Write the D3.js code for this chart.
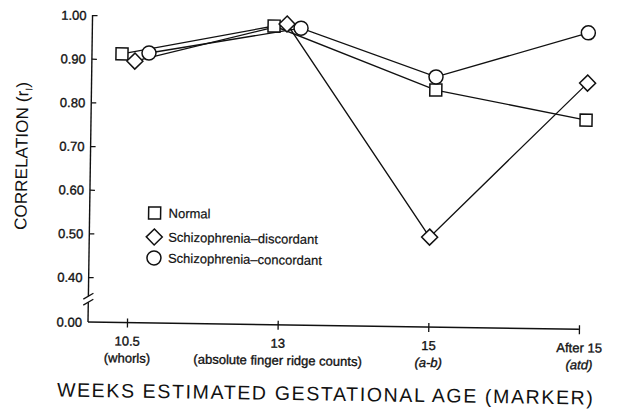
<!DOCTYPE html>
<html><head><meta charset="utf-8">
<script src="https://cdn.jsdelivr.net/npm/d3@7"></script>
<style>body{margin:0;background:#fff}svg{display:block}</style>
</head><body><svg id="c" width="634" height="410"></svg>
<script>
const categories = ["10.5", "13", "15", "After 15"];
const subLabels = ["(whorls)", "(absolute finger ridge counts)", "(a-b)", "(atd)"];
const subItalic = [false, false, true, true];
const seriesNames = ["Normal", "Schizophrenia\u2013discordant", "Schizophrenia\u2013concordant"];
const normal = [0.912, 0.981, 0.840, 0.776];
const discordant = [0.896, 0.986, 0.503, 0.861];
const concordant = [0.915, 0.977, 0.870, 0.976];
const yTicks = [0, 0.4, 0.5, 0.6, 0.7, 0.8, 0.9, 1.0];

const series = [
  {name: seriesNames[0], values: normal, shape: "square", dodge: [-9, -8, 4, 4]},
  {name: seriesNames[1], values: discordant, shape: "diamond", dodge: [4, 5, 0, 5]},
  {name: seriesNames[2], values: concordant, shape: "circle", dodge: [18, 19, 4, 5]}
];

const font = "'Liberation Sans', Arial, Helvetica, sans-serif";
const svg = d3.select("#c");
const g = svg.append("g").attr("transform", "rotate(0.85,88,322)");

const x0 = 88, yBase = 322;
const x = d3.scalePoint().domain(categories).range([127, 579]);
const y = d3.scaleLinear().domain([0, 0.35, 1]).range([322, 298.9, 15]);

function heavy(sel) {
  return sel.attr("font-family", font).attr("fill", "#111")
    .attr("stroke", "#111").attr("stroke-width", 0.35);
}

// Y axis ticks and labels
const yAxis = d3.axisLeft(y).tickValues(yTicks).tickFormat(d3.format(".2f"))
  .tickSizeInner(-5).tickSizeOuter(0).tickPadding(6);
const ya = g.append("g").attr("transform", `translate(${x0},0)`).call(yAxis);
ya.select(".domain").remove();
ya.selectAll(".tick line").attr("stroke", "#111").attr("stroke-width", 1.3)
  .filter(d => d === 0).remove();
heavy(ya.selectAll(".tick text")).attr("font-size", 13).attr("dy", "0.35em");

// Y axis line with break
const brk1 = y(0.345) - 3, brk2 = y(0.345) + 3;
g.append("line").attr("x1", x0).attr("x2", x0).attr("y1", y(1)).attr("y2", brk1)
  .attr("stroke", "#111").attr("stroke-width", 1.4);
g.append("line").attr("x1", x0).attr("x2", x0).attr("y1", brk2).attr("y2", y(0))
  .attr("stroke", "#111").attr("stroke-width", 1.4);
[brk1, brk2].forEach(b => {
  g.append("line").attr("x1", x0 - 5).attr("y1", b + 3).attr("x2", x0 + 5).attr("y2", b - 3)
    .attr("stroke", "#111").attr("stroke-width", 1.3);
});

// X axis
g.append("line").attr("x1", x0).attr("x2", x(categories[3])).attr("y1", yBase).attr("y2", yBase)
  .attr("stroke", "#111").attr("stroke-width", 1.4);
const xAxis = d3.axisBottom(x).tickSizeInner(5).tickSizeOuter(0).tickPadding(8);
const xa = g.append("g").attr("transform", `translate(0,${yBase})`).call(xAxis);
xa.select(".domain").remove();
xa.selectAll(".tick line").attr("y1", -4).attr("y2", 5).attr("stroke", "#111").attr("stroke-width", 1.3);
heavy(xa.selectAll(".tick text")).attr("font-size", 13).attr("y", 23).attr("dy", 0);
heavy(xa.selectAll(".tick").append("text"))
  .attr("y", 40).attr("text-anchor", "middle").attr("font-size", 13)
  .attr("font-style", (d, i) => subItalic[i] ? "italic" : "normal")
  .text((d, i) => subLabels[i]);

// Axis titles
g.append("text").attr("x", 58).attr("y", 397)
  .attr("font-family", font).attr("font-size", 19.5).attr("fill", "#111")
  .attr("textLength", 536).attr("lengthAdjust", "spacing")
  .text("WEEKS ESTIMATED GESTATIONAL AGE (MARKER)");
const yt = g.append("text").attr("transform", "translate(25,231) rotate(-90)")
  .attr("font-family", font).attr("font-size", 17).attr("fill", "#111")
  .attr("textLength", 148).attr("lengthAdjust", "spacing");
yt.append("tspan").text("CORRELATION (r");
yt.append("tspan").attr("font-size", 10).attr("dy", 4).text("I");
yt.append("tspan").attr("dy", -4).text(")");

// Markers
function drawMarker(sel, shape) {
  if (shape === "square") {
    sel.append("rect").attr("x", -6).attr("y", -6).attr("width", 12).attr("height", 12);
  } else if (shape === "diamond") {
    sel.append("path").attr("d", "M0,-8L8,0L0,8L-8,0Z");
  } else {
    sel.append("circle").attr("r", 7);
  }
  sel.selectAll("rect,path,circle").attr("fill", "#fff").attr("stroke", "#111").attr("stroke-width", 1.5);
}

const line = d3.line().x(d => d.px).y(d => d.py);
series.forEach(s => {
  const pts = s.values.map((v, i) => ({px: x(categories[i]) + s.dodge[i], py: y(v)}));
  s.pts = pts;
  g.append("path").attr("d", line(pts)).attr("fill", "none").attr("stroke", "#111").attr("stroke-width", 1.3);
});
series.forEach(s => {
  s.pts.forEach(p => {
    const m = g.append("g").attr("transform", `translate(${p.px},${p.py})`);
    drawMarker(m, s.shape);
  });
});

// Legend
const leg = g.append("g").attr("transform", "translate(153,212)");
series.forEach((s, i) => {
  const row = leg.append("g").attr("transform", `translate(0,${[0, 24, 45][i]})`);
  const m = row.append("g");
  drawMarker(m, s.shape);
  heavy(row.append("text")).attr("x", 14).attr("dy", "0.35em")
    .attr("font-size", 13).attr("stroke-width", 0.2)
    .text(s.name);
});
</script>
</body></html>
